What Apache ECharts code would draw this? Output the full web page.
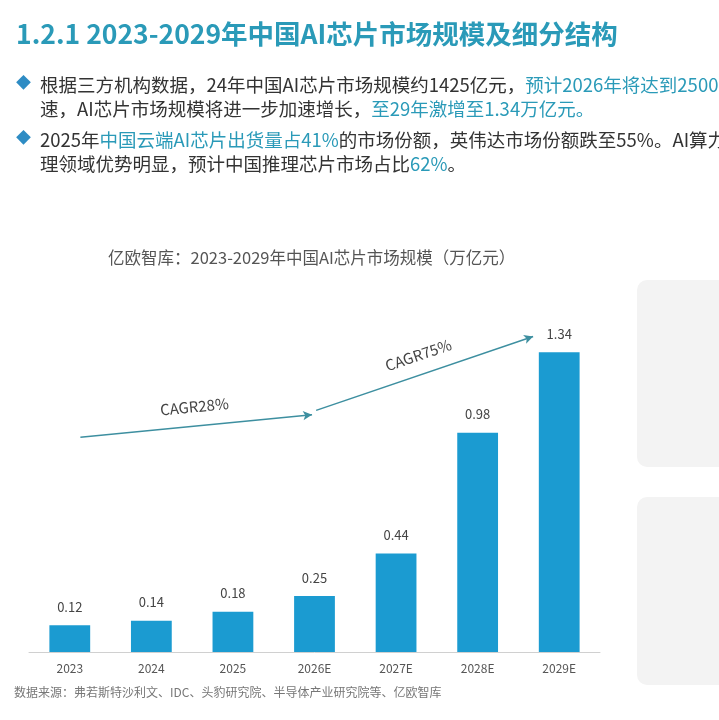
<!DOCTYPE html>
<html>
<head>
<meta charset="utf-8">
<script src="https://cdn.jsdelivr.net/npm/echarts@6/dist/echarts.min.js"></script>
<style>
  html, body { margin: 0; padding: 0; background: #fff; }
  #chart { width: 719px; height: 720px; }
</style>
</head>
<body>
<div id="chart"></div>
<script>
var years = ['2023', '2024', '2025', '2026E', '2027E', '2028E', '2029E'];
var marketSize = [0.12, 0.14, 0.18, 0.25, 0.44, 0.98, 1.34];

// CAGR arrows: [category position, value] pairs
var cagrLabels = ['CAGR28%', 'CAGR75%'];
var cagrPoints = [[0.13, 0.96], [2.97, 1.06], [3.02, 1.08], [5.68, 1.41]];

var font = '"Noto Sans CJK SC", "Noto Sans", sans-serif';
var teal = '#2a9ab8';
var black = '#333';

var myChart = echarts.init(document.getElementById('chart'));

var option = {
    animation: false,
    backgroundColor: '#fff',
    textStyle: { fontFamily: font },
    grid: {
        left: 29,
        right: 119,
        top: 294,
        bottom: 68
    },
    xAxis: [{
        type: 'category',
        data: years,
        axisLine: { lineStyle: { color: '#d0d0d0', width: 1 } },
        axisTick: { show: false },
        axisLabel: { color: '#555', fontSize: 12, margin: 10 }
    }, {
        // hidden helper axis for the CAGR arrows
        type: 'value',
        min: -0.5,
        max: 6.5,
        show: false
    }],
    yAxis: {
        type: 'value',
        min: 0,
        max: 1.6,
        show: false,
        splitLine: { show: false }
    },
    series: [{
        name: '市场规模',
        type: 'bar',
        data: marketSize,
        barWidth: '50%',
        itemStyle: { color: '#1b9bd1' },
        label: {
            show: true,
            position: 'top',
            distance: 12,
            color: '#444',
            fontSize: 13
        }
    }, {
        name: 'CAGR',
        type: 'line',
        xAxisIndex: 1,
        data: [],
        markLine: {
            silent: true,
            symbol: ['none', 'arrow'],
            symbolSize: [7, 9],
            lineStyle: { color: '#3d8fa0', width: 1.5, type: 'solid' },
            label: {
                show: true,
                position: 'middle',
                distance: 12,
                color: '#444',
                fontSize: 15
            },
            data: [
                [{ coord: cagrPoints[0], name: cagrLabels[0] }, { coord: cagrPoints[1] }],
                [{ coord: cagrPoints[2], name: cagrLabels[1] }, { coord: cagrPoints[3] }]
            ].map(function (pair) {
                pair[0].label = { formatter: '{b}' };
                return pair;
            })
        }
    }],
    graphic: [
        {
            type: 'text', left: 16, top: 21,
            style: { text: '1.2.1 2023-2029年中国AI芯片市场规模及细分结构', fill: teal, font: 'bold 26.5px ' + font }
        },
        { type: 'text', left: 16, top: 75, style: { text: '◆', fill: '#2e8cc4', font: '15px ' + font } },
        { type: 'text', left: 16, top: 130, style: { text: '◆', fill: '#2e8cc4', font: '15px ' + font } },
        {
            type: 'text', left: 40, top: 73,
            style: {
                text: '{a|根据三方机构数据，24年中国AI芯片市场规模约1425亿元，}{b|预计2026年将达到2500亿元}\n{a|速，AI芯片市场规模将进一步加速增长，}{b|至29年激增至1.34万亿元。}',
                lineHeight: 24,
                rich: {
                    a: { fill: black, font: '18.5px ' + font, lineHeight: 24 },
                    b: { fill: teal, font: '18.5px ' + font, lineHeight: 24 }
                }
            }
        },
        {
            type: 'text', left: 40, top: 128,
            style: {
                text: '{a|2025年}{b|中国云端AI芯片出货量占41%}{a|的市场份额，英伟达市场份额跌至55%。AI算力}\n{a|理领域优势明显，预计中国推理芯片市场占比}{b|62%}{a|。}',
                lineHeight: 24,
                rich: {
                    a: { fill: black, font: '18.5px ' + font, lineHeight: 24 },
                    b: { fill: teal, font: '18.5px ' + font, lineHeight: 24 }
                }
            }
        },
        {
            type: 'text', left: 108, top: 249,
            style: { text: '亿欧智库：2023-2029年中国AI芯片市场规模（万亿元）', fill: '#555', font: '16.5px ' + font }
        },
        {
            type: 'text', left: 14, top: 686,
            style: { text: '数据来源：弗若斯特沙利文、IDC、头豹研究院、半导体产业研究院等、亿欧智库', fill: '#777', font: '12px ' + font }
        },
        {
            type: 'rect', left: 637, top: 280,
            shape: { width: 100, height: 187, r: 10 },
            style: { fill: '#f3f3f3' }
        },
        {
            type: 'rect', left: 637, top: 497,
            shape: { width: 100, height: 188, r: 10 },
            style: { fill: '#f3f3f3' }
        }
    ]
};

myChart.setOption(option);
</script>
</body>
</html>
